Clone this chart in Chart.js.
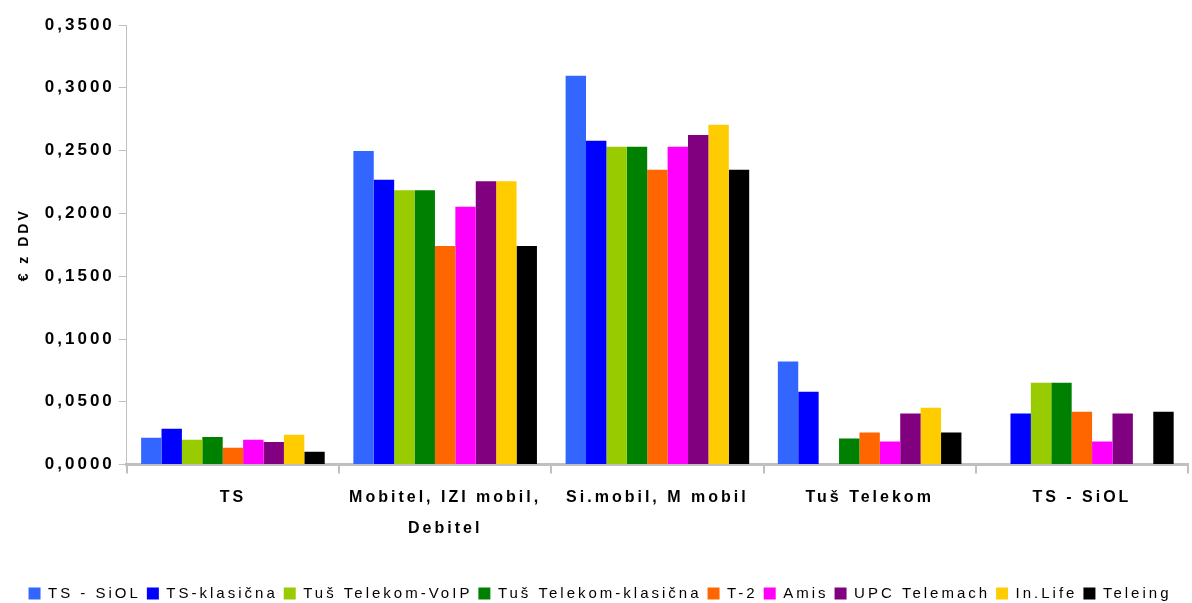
<!DOCTYPE html>
<html>
<head>
<meta charset="utf-8">
<script src="https://cdn.jsdelivr.net/npm/chart.js@4"></script>
<style>
  html, body { margin: 0; padding: 0; background: #fff; }
  #wrap { width: 1192px; height: 603px; }
</style>
</head>
<body>
<div id="wrap"><canvas id="grafico"></canvas></div>
<script>
// ---------------- Dados ----------------
const kategorije = ['TS', ['Mobitel, IZI mobil,', 'Debitel'], 'Si.mobil, M mobil', 'Tuš Telekom', 'TS - SiOL'];
const operaterji = ['TS - SiOL', 'TS-klasična', 'Tuš Telekom-VoIP', 'Tuš Telekom-klasična', 'T-2', 'Amis', 'UPC Telemach', 'In.Life', 'Teleing'];
const barve = ['#3366FF', '#0000FF', '#99CC00', '#008000', '#FF6600', '#FF00FF', '#800080', '#FFCC00', '#000000'];

const tsSiol       = [0.0214, 0.2496, 0.3095, 0.0820, null];
const tsKlasicna   = [0.0286, 0.2268, 0.2578, 0.0580, 0.0406];
const tusVoip      = [0.0198, 0.2184, 0.2530, null,   0.0652];
const tusKlasicna  = [0.0220, 0.2184, 0.2530, 0.0207, 0.0652];
const t2           = [0.0135, 0.1740, 0.2347, 0.0255, 0.0420];
const amis         = [0.0198, 0.2052, 0.2530, 0.0183, 0.0183];
const upc          = [0.0180, 0.2256, 0.2625, 0.0406, 0.0406];
const inLife       = [0.0238, 0.2256, 0.2705, 0.0453, null];
const teleing      = [0.0103, 0.1740, 0.2347, 0.0255, 0.0420];

const serije = [tsSiol, tsKlasicna, tusVoip, tusKlasicna, t2, amis, upc, inLife, teleing];
const yTicki = { min: 0, max: 0.35, korak: 0.05 };

const pisava = "'Liberation Sans', Arial, sans-serif";

// razmik med črkami (stara pisava v izvirniku je precej razprta)
const razmikCrk = {
    id: 'razmikCrk',
    beforeLayout(chart) { chart.ctx.letterSpacing = '3px'; },
    beforeDraw(chart) { chart.ctx.letterSpacing = '3px'; }
};

new Chart(document.getElementById('grafico'), {
    type: 'bar',
    data: {
        labels: kategorije,
        datasets: serije.map((s, i) => ({
            label: operaterji[i],
            data: s,
            backgroundColor: barve[i],
            borderWidth: 0
        }))
    },
    plugins: [razmikCrk],
    options: {
        responsive: true,
        maintainAspectRatio: false,
        animation: false,
        layout: { padding: { top: 25, right: 4, left: 12, bottom: -8 } },
        datasets: { bar: { categoryPercentage: 0.865, barPercentage: 1 } },
        scales: {
            x: {
                grid: { display: true, drawOnChartArea: false, offset: true, tickLength: 9, color: '#c0c0c0', lineWidth: 2 },
                border: { color: '#c0c0c0', width: 3 },
                ticks: { color: '#000', padding: 8, font: { family: pisava, size: 16, weight: 'bold', lineHeight: 1.95 }, maxRotation: 0 },
                afterFit: os => { os.height += 28; }
            },
            y: {
                min: yTicki.min,
                max: yTicki.max,
                grid: { display: true, drawOnChartArea: false, tickLength: 8, color: '#c0c0c0' },
                border: { color: '#c0c0c0', width: 1 },
                ticks: {
                    stepSize: yTicki.korak,
                    color: '#000',
                    padding: 4,
                    font: { family: pisava, size: 17, weight: 'bold' },
                    callback: v => v.toFixed(4).replace('.', ',')
                },
                title: { display: true, text: '€ z DDV', color: '#000', font: { family: pisava, size: 14, weight: 'bold' }, padding: { bottom: 8 } }
            }
        },
        plugins: {
            legend: {
                position: 'bottom',
                labels: { color: '#000', boxWidth: 12, boxHeight: 12, padding: 6, font: { family: pisava, size: 15 } }
            },
            tooltip: { enabled: false }
        }
    }
});
</script>
</body>
</html>
